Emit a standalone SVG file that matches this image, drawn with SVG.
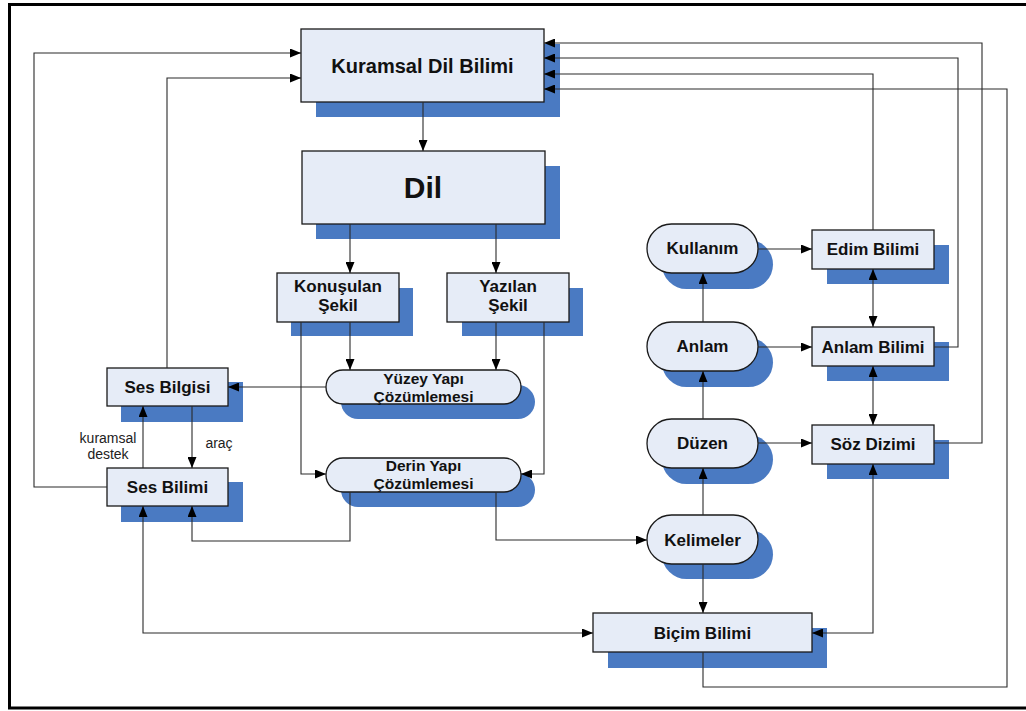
<svg xmlns="http://www.w3.org/2000/svg" width="1026" height="711" viewBox="0 0 1026 711">
  <defs>
    <marker id="arr" viewBox="0 0 11 9" markerWidth="11" markerHeight="9" refX="11" refY="4.5" orient="auto-start-reverse" markerUnits="userSpaceOnUse">
      <path d="M0,0 L11,4.5 L0,9 z" fill="#000"/>
    </marker>
    <style>
      .face { fill: #E6ECF7; stroke: #1a1a1a; stroke-width: 1.3; }
      .shadow { fill: #4A7AC2; }
      .t { font-family: "Liberation Sans", Arial, sans-serif; font-weight: bold; fill: #111; text-anchor: middle; }
      .t17 { font-size: 17px; }
      .t15 { font-size: 15.5px; }
      .lbl { font-family: "Liberation Sans", Arial, sans-serif; font-size: 14px; fill: #222; text-anchor: middle; }
      .c path { fill: none; stroke: #2a2a2a; stroke-width: 1.1; }
      .one { marker-end: url(#arr); }
      .two { marker-start: url(#arr); marker-end: url(#arr); }
    </style>
  </defs>

  <rect x="0" y="0" width="1026" height="711" fill="#fff"/>
  <!-- outer frame -->
  <rect x="9.5" y="4.5" width="1030" height="703.5" fill="none" stroke="#000" stroke-width="3"/>

  <!-- nodes -->
  <g id="kuramsal">
    <rect class="shadow" x="316" y="44" width="244" height="73"/>
    <rect class="face" x="301" y="29" width="243" height="73"/>
    <text class="t" x="422.5" y="73" font-size="20">Kuramsal Dil Bilimi</text>
  </g>
  <g id="dil">
    <rect class="shadow" x="316" y="166" width="244" height="73"/>
    <rect class="face" x="302" y="151" width="243" height="73"/>
    <text class="t" x="423" y="198" font-size="30">Dil</text>
  </g>
  <g id="konusulan">
    <rect class="shadow" x="291" y="288" width="122" height="48"/>
    <rect class="face" x="277" y="273" width="122" height="49"/>
    <text class="t t17" x="338" y="292">Konuşulan</text>
    <text class="t t17" x="338" y="311">Şekil</text>
  </g>
  <g id="yazilan">
    <rect class="shadow" x="462" y="288" width="121" height="48"/>
    <rect class="face" x="447" y="273" width="122" height="49"/>
    <text class="t t17" x="508" y="292">Yazılan</text>
    <text class="t t17" x="508" y="311">Şekil</text>
  </g>
  <g id="yuzey">
    <rect class="shadow" x="341" y="385" width="194" height="34" rx="17"/>
    <rect class="face" x="326" y="370" width="195" height="34" rx="17"/>
    <text class="t t15" x="423.5" y="384">Yüzey Yapı</text>
    <text class="t t15" x="423.5" y="402">Çözümlemesi</text>
  </g>
  <g id="derin">
    <rect class="shadow" x="341" y="473" width="194" height="34" rx="17"/>
    <rect class="face" x="326" y="458" width="195" height="34" rx="17"/>
    <text class="t t15" x="423.5" y="471">Derin Yapı</text>
    <text class="t t15" x="423.5" y="489">Çözümlemesi</text>
  </g>
  <g id="ses-bilgisi">
    <rect class="shadow" x="121" y="382" width="122" height="40"/>
    <rect class="face" x="107" y="368" width="121" height="38"/>
    <text class="t t17" x="167.5" y="393">Ses Bilgisi</text>
  </g>
  <g id="ses-bilimi">
    <rect class="shadow" x="121" y="482" width="122" height="40"/>
    <rect class="face" x="107" y="468" width="121" height="38"/>
    <text class="t t17" x="167.5" y="493">Ses Bilimi</text>
  </g>
  <g id="kullanim">
    <rect class="shadow" x="662" y="240" width="111" height="49" rx="24.5"/>
    <rect class="face" x="647" y="224" width="111" height="49" rx="24.5"/>
    <text class="t t17" x="702.5" y="254">Kullanım</text>
  </g>
  <g id="anlam">
    <rect class="shadow" x="662" y="338" width="111" height="49" rx="24.5"/>
    <rect class="face" x="647" y="322" width="111" height="49" rx="24.5"/>
    <text class="t t17" x="702.5" y="352">Anlam</text>
  </g>
  <g id="duzen">
    <rect class="shadow" x="662" y="435" width="111" height="49" rx="24.5"/>
    <rect class="face" x="647" y="419" width="111" height="49" rx="24.5"/>
    <text class="t t17" x="702.5" y="449">Düzen</text>
  </g>
  <g id="kelimeler">
    <rect class="shadow" x="662" y="530" width="111" height="49" rx="24.5"/>
    <rect class="face" x="647" y="515" width="111" height="49" rx="24.5"/>
    <text class="t t17" x="702.5" y="546">Kelimeler</text>
  </g>
  <g id="edim-bilimi">
    <rect class="shadow" x="827" y="245" width="122" height="39"/>
    <rect class="face" x="812" y="230" width="122" height="39"/>
    <text class="t t17" x="873" y="255">Edim Bilimi</text>
  </g>
  <g id="anlam-bilimi">
    <rect class="shadow" x="827" y="342" width="122" height="39"/>
    <rect class="face" x="812" y="327" width="122" height="39"/>
    <text class="t t17" x="873" y="353">Anlam Bilimi</text>
  </g>
  <g id="soz-dizimi">
    <rect class="shadow" x="827" y="440" width="122" height="39"/>
    <rect class="face" x="812" y="425" width="122" height="39"/>
    <text class="t t17" x="873" y="450">Söz Dizimi</text>
  </g>
  <g id="bicim-bilimi">
    <rect class="shadow" x="608" y="628" width="219" height="40"/>
    <rect class="face" x="593" y="613" width="219" height="39"/>
    <text class="t t17" x="702.5" y="639">Biçim Bilimi</text>
  </g>

  <!-- connectors -->
  <g id="connectors" class="c">
    <path class="one" d="M423,102 V151"/>
    <path class="one" d="M350,224 V273"/>
    <path class="one" d="M496,224 V273"/>
    <path class="one" d="M350,322 V370"/>
    <path class="one" d="M496,322 V370"/>
    <path class="one" d="M301,322 V474 H326"/>
    <path class="one" d="M544,322 V474 H521"/>
    <path class="one" d="M326,387 H228"/>
    <path class="one" d="M192,406 V468"/>
    <path class="one" d="M143,468 V406"/>
    <path class="one" d="M167,368 V78 H301"/>
    <path class="one" d="M107,487 H34 V53 H301"/>
    <path class="one" d="M350,492 V541 H192 V506"/>
    <path class="one" d="M496,492 V540 H647"/>
    <path class="two" d="M143,506 V633 H593"/>
    <path class="one" d="M703,515 V468"/>
    <path class="one" d="M703,419 V371"/>
    <path class="one" d="M703,322 V273"/>
    <path class="one" d="M703,564 V613"/>
    <path class="one" d="M758,249 H812"/>
    <path class="one" d="M758,347 H812"/>
    <path class="one" d="M758,443 H812"/>
    <path class="two" d="M873,269 V327"/>
    <path class="two" d="M873,366 V425"/>
    <path class="two" d="M873,464 V633 H812"/>
    <path class="one" d="M873,230 V74 H544"/>
    <path class="one" d="M934,347 H958 V58 H544"/>
    <path class="one" d="M934,443 H982 V43 H544"/>
    <path class="one" d="M703,652 V687 H1007 V89 H544"/>
  </g>

  <!-- connector labels -->
  <text class="lbl" x="108" y="443">kuramsal</text>
  <text class="lbl" x="108" y="459">destek</text>
  <text class="lbl" x="219" y="448">araç</text>
</svg>
